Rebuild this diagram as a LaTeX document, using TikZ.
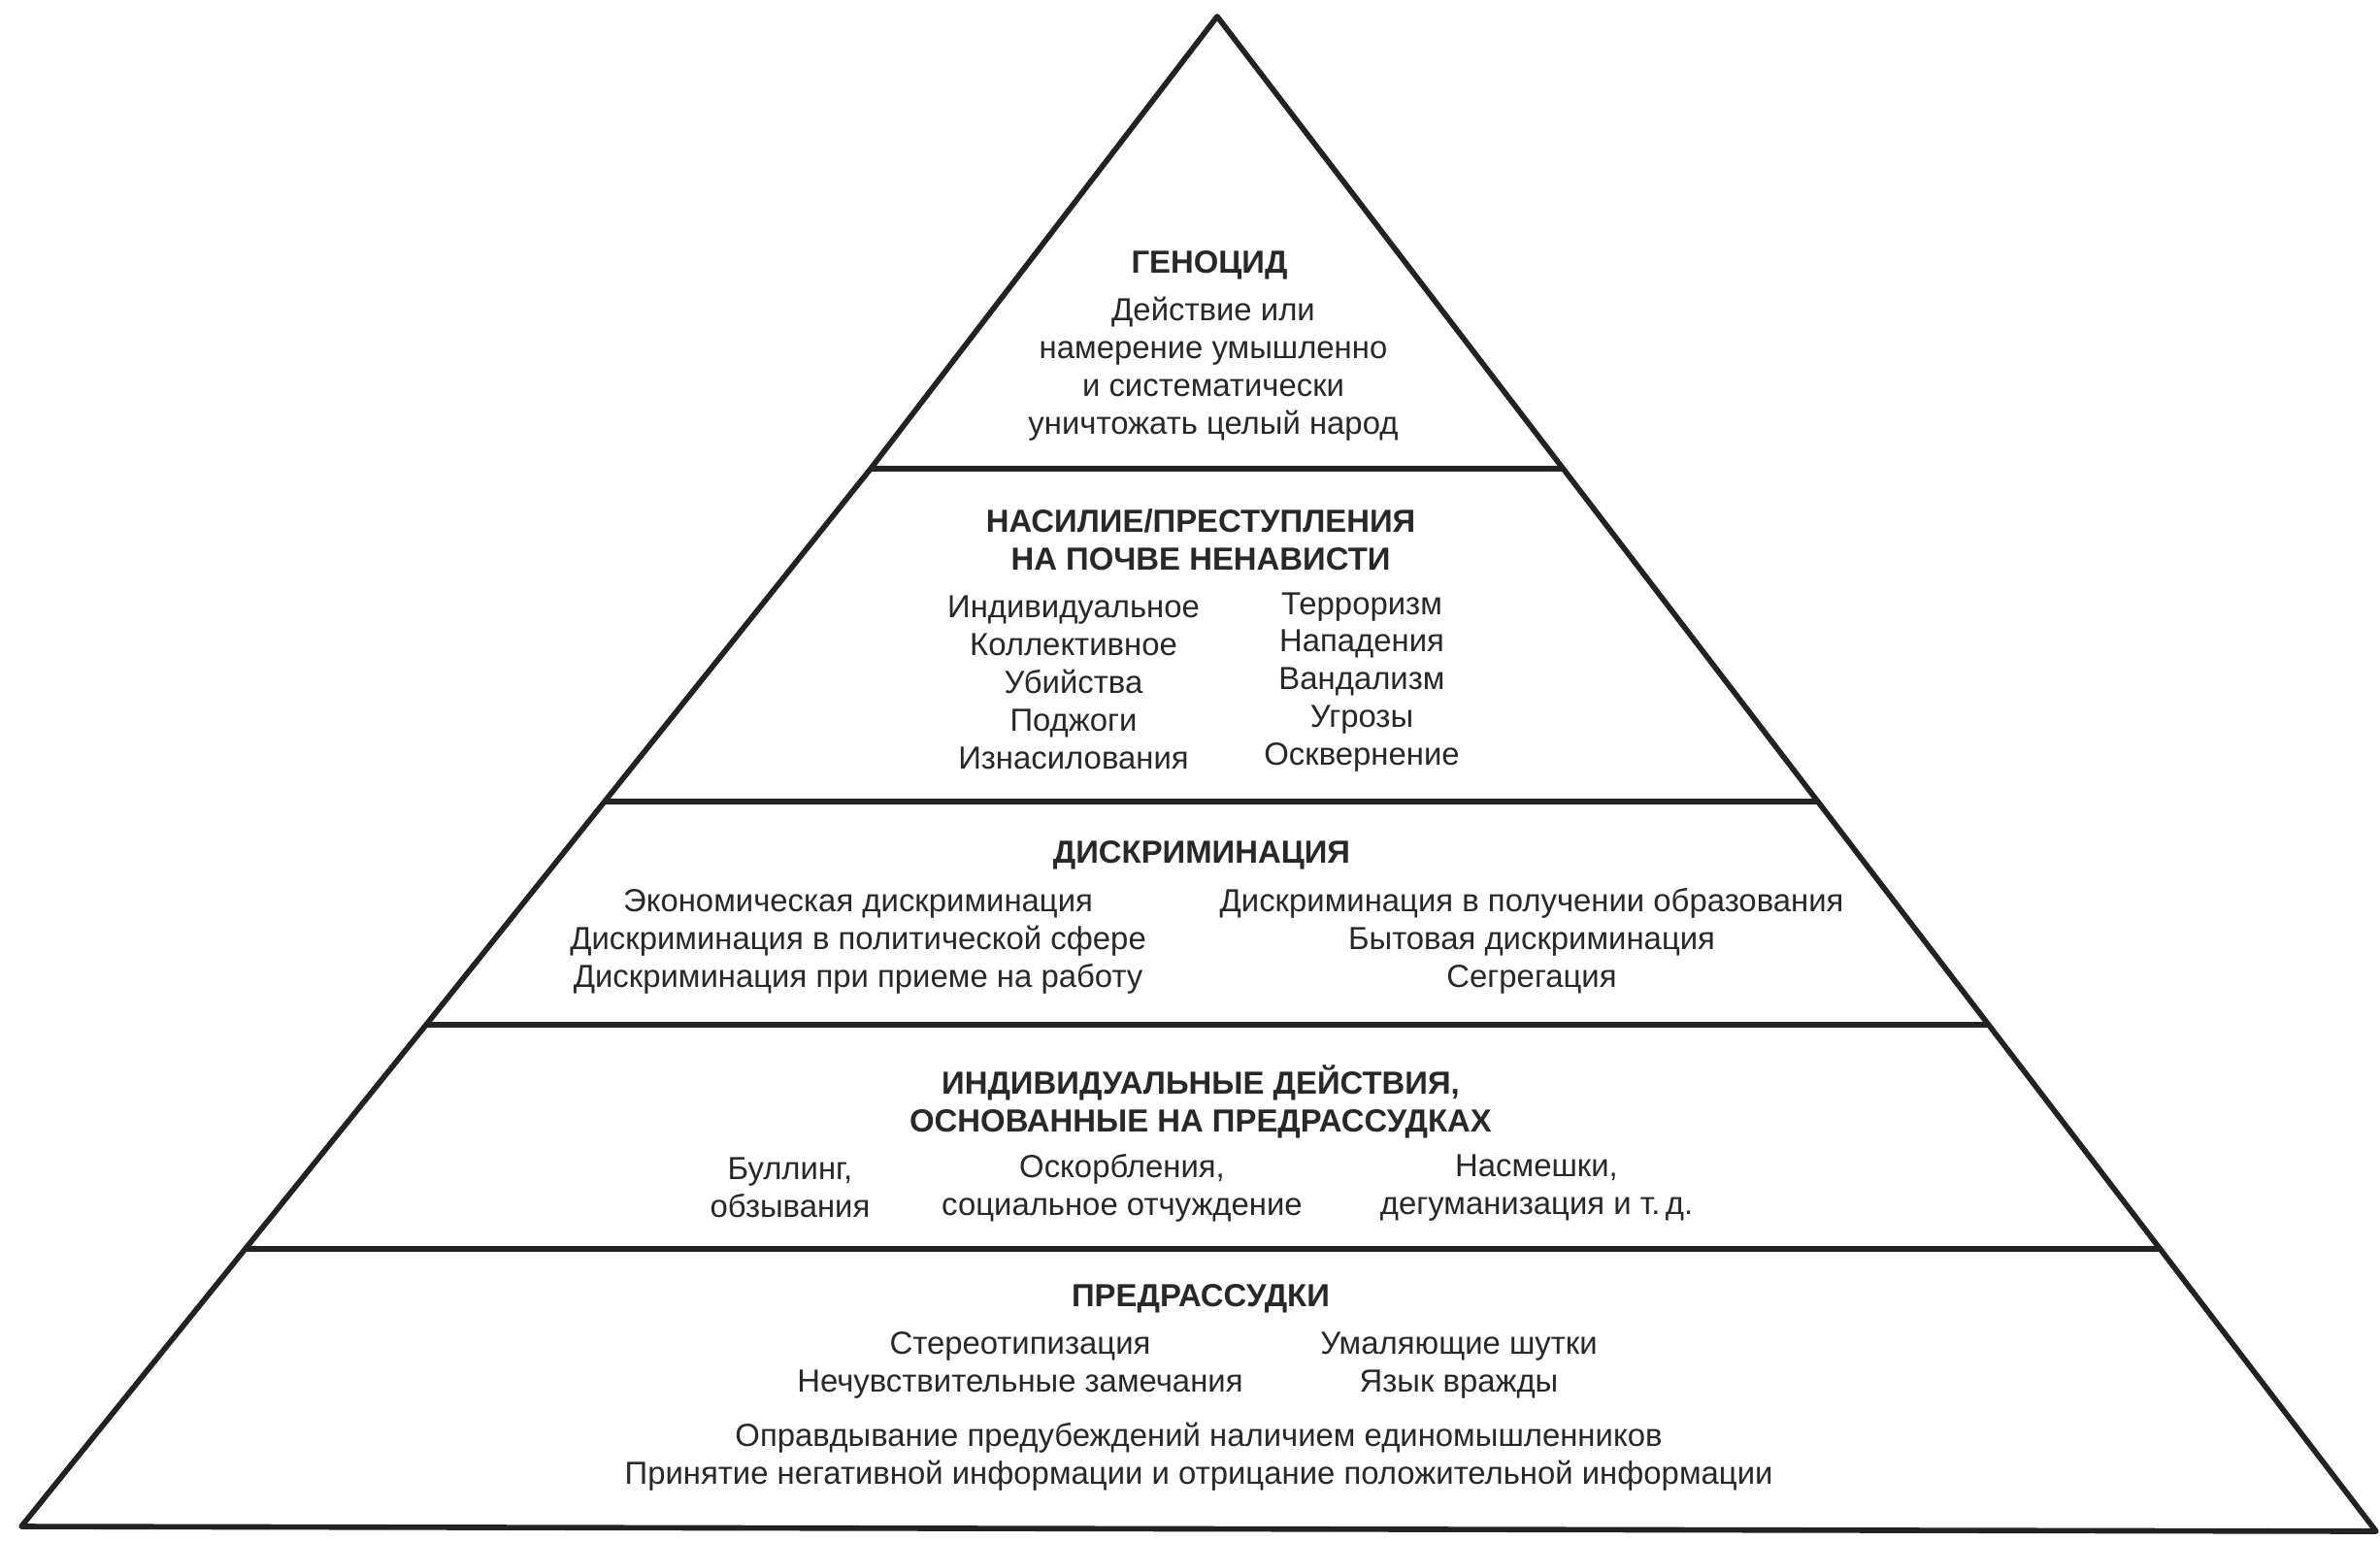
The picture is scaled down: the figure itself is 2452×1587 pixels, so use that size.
\documentclass[tikz,border=0pt]{standalone}
\usepackage{fontspec}
\setmainfont{Liberation Sans}
\definecolor{ink}{RGB}{34,34,34}
\definecolor{txt}{RGB}{40,40,40}
\begin{document}
\begin{tikzpicture}[x=0.01cm,y=-0.01cm,
  edge/.style={draw=ink,line width=1.6pt,line join=round,line cap=butt},
  divider/.style={draw=ink,line width=1.6pt},
  title/.style={font=\fontsize{9.35}{11.07}\selectfont\bfseries,text=txt,align=center,inner sep=0pt},
  body/.style={font=\fontsize{9.35}{11.07}\selectfont,text=txt,align=center,inner sep=0pt}]
\useasboundingbox (0,0) rectangle (2452,1587);
\fill[white] (0,0) rectangle (2452,1587);
% pyramid corners
\coordinate (A) at (1254,17);
\coordinate (L) at (22,1573);
\coordinate (R) at (2448,1578);
% divider end points (on the pyramid edges)
\coordinate (d1l) at (897,483);   \coordinate (d1r) at (1612,483);
\coordinate (d2l) at (624,826);   \coordinate (d2r) at (1874,826);
\coordinate (d3l) at (439,1056);  \coordinate (d3r) at (2050,1056);
\coordinate (d4l) at (252,1287);  \coordinate (d4r) at (2226,1287);
\draw[edge] (A) -- (d1l) -- (d3l) -- (L) -- (R) -- cycle;
\draw[divider] (d1l) -- (d1r);
\draw[divider] (d2l) -- (d2r);
\draw[divider] (d3l) -- (d3r);
\draw[divider] (d4l) -- (d4r);
% level 1
\node[title] (t1) at (1246,273) {ГЕНОЦИД};
\node[body] (b1) at (1250,380) {Действие или\\намерение умышленно\\и систематически\\уничтожать целый народ};
% level 2
\node[title] (t2) at (1237,556) {НАСИЛИЕ/ПРЕСТУПЛЕНИЯ\\НА ПОЧВЕ НЕНАВИСТИ};
\node[body] (b2l) at (1106,703) {Индивидуальное\\Коллективное\\Убийства\\Поджоги\\Изнасилования};
\node[body] (b2r) at (1403,703) {Терроризм\\Нападения\\Вандализм\\Угрозы\\Осквернение};
% level 3
\node[title] (t3) at (1238,881) {ДИСКРИМИНАЦИЯ};
\node[body] (b3l) at (884,970) {Экономическая дискриминация\\Дискриминация в политической сфере\\Дискриминация при приеме на работу};
\node[body] (b3r) at (1578,970) {Дискриминация в получении образования\\Бытовая дискриминация\\Сегрегация};
% level 4
\node[title] (t4) at (1237,1135) {ИНДИВИДУАЛЬНЫЕ ДЕЙСТВИЯ,\\ОСНОВАННЫЕ НА ПРЕДРАССУДКАХ};
\node[body] (b4a) at (814,1224) {Буллинг,\\обзывания};
\node[body] (b4b) at (1156,1224) {Оскорбления,\\социальное отчуждение};
\node[body] (b4c) at (1583,1224) {Насмешки,\\дегуманизация и т.\,д.};
% level 5
\node[title] (t5) at (1237,1338) {ПРЕДРАССУДКИ};
\node[body] (b5l) at (1051,1407) {Стереотипизация\\Нечувствительные замечания};
\node[body] (b5r) at (1503,1407) {Умаляющие шутки\\Язык вражды};
\node[body] (b5b) at (1235,1501) {Оправдывание предубеждений наличием единомышленников\\Принятие негативной информации и отрицание положительной информации};
\end{tikzpicture}
\end{document}
